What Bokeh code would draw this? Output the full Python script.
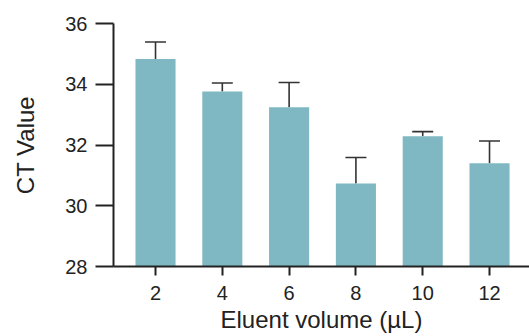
from bokeh.plotting import figure
from bokeh.models import Range1d, FixedTicker, ColumnDataSource, Whisker, TeeHead
from bokeh.embed import file_html
from bokeh.resources import INLINE

# Data
volumes = [2, 4, 6, 8, 10, 12]
ct_mean = [34.83, 33.76, 33.24, 30.73, 32.29, 31.40]
ct_err = [0.56, 0.28, 0.82, 0.86, 0.15, 0.73]
y_ticks = [28, 30, 32, 34, 36]
x_label = "Eluent volume (µL)"
y_label = "CT Value"

BAR = "#7fb8c2"
INK = "#222222"
FONT = "Liberation Sans"

src = ColumnDataSource(dict(
    x=volumes,
    mean=ct_mean,
    upper=[m + e for m, e in zip(ct_mean, ct_err)],
))

p = figure(width=529, height=336, output_backend="svg", toolbar_location=None,
           x_range=Range1d(0.742, 13.197), y_range=Range1d(28, 36),
           min_border_left=113, min_border_right=0, min_border_top=23, min_border_bottom=70)

p.vbar(x="x", top="mean", bottom=28, width=1.2, source=src,
       fill_color=BAR, line_color=None)

wh = Whisker(base="x", upper="upper", lower="mean", source=src,
             line_color="#333333", line_width=1.6,
             upper_head=TeeHead(size=21, line_color="#333333", line_width=1.6),
             lower_head=None)
p.add_layout(wh)

p.outline_line_color = None
p.grid.grid_line_color = None
p.background_fill_color = "white"
p.border_fill_color = "white"

for ax in (p.xaxis[0], p.yaxis[0]):
    ax.axis_line_color = INK
    ax.axis_line_width = 2
    ax.major_tick_line_color = INK
    ax.major_tick_line_width = 2
    ax.major_tick_in = 0
    ax.minor_tick_line_color = None
    ax.major_label_text_font = FONT
    ax.major_label_text_font_size = "20px"
    ax.major_label_text_color = INK
    ax.axis_label_text_font = FONT
    ax.axis_label_text_font_size = "24px"
    ax.axis_label_text_font_style = "normal"
    ax.axis_label_text_color = INK

p.xaxis.ticker = FixedTicker(ticks=volumes)
p.xaxis.major_tick_out = 9
p.xaxis.major_label_standoff = 10
p.xaxis.axis_label = x_label
p.xaxis.axis_label_standoff = 3

p.yaxis.ticker = FixedTicker(ticks=y_ticks)
p.yaxis.major_tick_out = 18
p.yaxis.major_label_standoff = 8
p.yaxis.axis_label = y_label
p.yaxis.axis_label_standoff = 23

open("out.html", "w").write(file_html(p, INLINE))
